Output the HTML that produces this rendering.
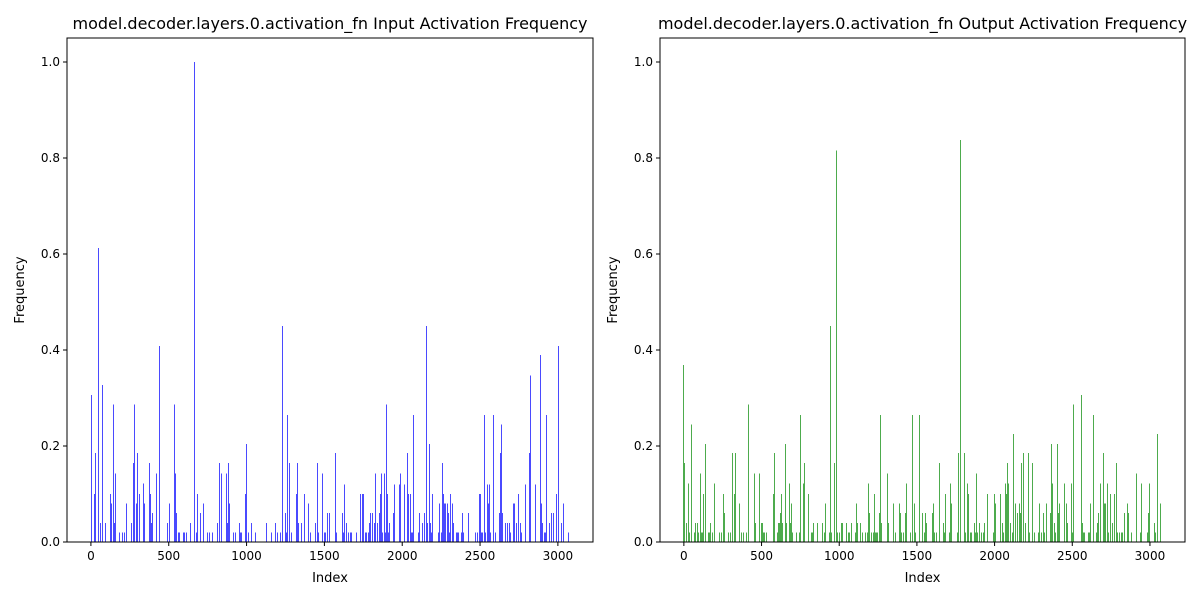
<!DOCTYPE html>
<html><head><meta charset="utf-8"><style>
body{margin:0;background:#fff;}
svg{display:block;font-family:"DejaVu Sans","Liberation Sans",sans-serif;}
</style></head><body>
<svg id="chart" width="1200" height="600" viewBox="0 0 1200 600"></svg>
<script>
const inIdx=[2,21,28,47,60,73,92,125,131,144,150,157,183,202,215,228,260,273,280,292,299,312,337,344,376,383,389,395,421,441,492,505,537,544,550,563,570,595,602,615,641,666,679,686,705,724,750,763,782,815,828,841,873,879,886,892,918,931,957,963,970,995,1002,1015,1034,1060,1125,1131,1163,1183,1196,1215,1228,1247,1254,1260,1273,1279,1286,1318,1324,1331,1350,1370,1395,1408,1441,1453,1460,1486,1499,1505,1518,1531,1570,1576,1615,1621,1628,1641,1653,1666,1673,1705,1731,1744,1750,1763,1770,1783,1789,1795,1808,1821,1828,1841,1854,1860,1866,1873,1886,1892,1899,1905,1912,1918,1944,1950,1982,1989,2015,2034,2041,2054,2060,2066,2073,2105,2111,2131,2144,2157,2163,2176,2182,2189,2195,2234,2240,2253,2260,2266,2273,2279,2292,2298,2305,2311,2324,2331,2350,2357,2363,2382,2389,2395,2428,2473,2486,2499,2505,2511,2518,2531,2537,2550,2557,2563,2569,2589,2602,2627,2634,2640,2647,2666,2679,2686,2698,2718,2724,2731,2744,2750,2757,2763,2769,2789,2815,2821,2853,2886,2892,2898,2911,2918,2924,2944,2957,2969,2989,3002,3021,3034,3070];
const inVal=[0.306,0.10,0.185,0.612,0.04,0.327,0.04,0.10,0.08,0.286,0.04,0.143,0.02,0.02,0.02,0.08,0.04,0.165,0.286,0.08,0.185,0.10,0.122,0.08,0.165,0.10,0.04,0.06,0.143,0.408,0.04,0.08,0.286,0.143,0.06,0.02,0.02,0.02,0.02,0.02,0.04,1.0,0.02,0.10,0.06,0.08,0.02,0.02,0.02,0.04,0.165,0.143,0.143,0.04,0.165,0.08,0.02,0.02,0.04,0.02,0.02,0.10,0.204,0.02,0.04,0.02,0.04,0.02,0.02,0.04,0.02,0.02,0.45,0.06,0.02,0.265,0.165,0.02,0.02,0.10,0.165,0.04,0.04,0.10,0.08,0.02,0.04,0.165,0.02,0.143,0.02,0.02,0.06,0.06,0.185,0.02,0.06,0.02,0.12,0.04,0.02,0.02,0.02,0.02,0.10,0.10,0.10,0.02,0.02,0.02,0.04,0.06,0.06,0.04,0.143,0.04,0.06,0.10,0.143,0.02,0.143,0.02,0.286,0.10,0.02,0.04,0.06,0.12,0.12,0.143,0.12,0.185,0.10,0.10,0.02,0.02,0.265,0.02,0.06,0.04,0.06,0.45,0.04,0.204,0.04,0.02,0.10,0.02,0.08,0.02,0.165,0.10,0.08,0.08,0.08,0.06,0.02,0.10,0.08,0.04,0.02,0.02,0.02,0.02,0.06,0.02,0.06,0.02,0.02,0.10,0.10,0.02,0.02,0.265,0.02,0.12,0.08,0.12,0.02,0.265,0.02,0.06,0.185,0.245,0.06,0.04,0.04,0.04,0.02,0.08,0.08,0.04,0.06,0.10,0.04,0.02,0.02,0.12,0.185,0.347,0.12,0.39,0.08,0.04,0.02,0.02,0.265,0.04,0.06,0.06,0.10,0.408,0.04,0.08,0.02];
const outIdx=[0,6,19,32,39,52,71,77,90,97,110,116,123,129,142,161,168,174,187,194,200,232,245,252,264,290,297,310,316,329,335,361,368,374,381,387,400,406,413,419,452,458,464,484,490,497,503,510,522,535,574,581,600,606,613,619,626,632,651,658,677,684,690,697,722,742,748,768,774,800,819,826,832,858,890,903,909,935,942,948,968,980,987,1000,1013,1019,1045,1058,1064,1077,1103,1109,1116,1135,1148,1167,1180,1187,1193,1206,1219,1226,1232,1239,1245,1258,1264,1271,1309,1316,1348,1361,1387,1393,1400,1413,1425,1432,1458,1471,1483,1490,1516,1535,1548,1554,1561,1600,1606,1613,1626,1645,1671,1677,1684,1710,1716,1722,1761,1768,1780,1806,1813,1826,1832,1845,1851,1871,1877,1884,1890,1903,1916,1929,1935,1955,1993,2000,2006,2038,2051,2058,2071,2077,2084,2090,2103,2116,2122,2135,2148,2161,2167,2174,2187,2200,2219,2226,2245,2258,2284,2290,2303,2316,2322,2335,2361,2367,2374,2387,2393,2406,2413,2419,2451,2464,2471,2496,2503,2509,2561,2567,2574,2580,2606,2612,2619,2638,2658,2664,2670,2683,2703,2709,2716,2729,2735,2748,2761,2774,2787,2793,2806,2819,2825,2838,2858,2864,2883,2916,2941,2948,2987,2993,3000,3032,3038,3051,3070];
const outVal=[0.369,0.165,0.04,0.122,0.02,0.245,0.02,0.04,0.04,0.02,0.143,0.02,0.02,0.10,0.204,0.02,0.02,0.04,0.02,0.02,0.122,0.02,0.02,0.10,0.06,0.02,0.02,0.02,0.185,0.10,0.185,0.08,0.02,0.02,0.02,0.02,0.02,0.02,0.286,0.04,0.143,0.04,0.04,0.143,0.04,0.04,0.04,0.02,0.02,0.02,0.10,0.185,0.02,0.04,0.04,0.06,0.10,0.04,0.204,0.04,0.122,0.04,0.08,0.02,0.02,0.02,0.265,0.122,0.165,0.10,0.02,0.02,0.04,0.04,0.04,0.02,0.08,0.02,0.45,0.02,0.165,0.816,0.02,0.02,0.04,0.04,0.04,0.02,0.02,0.04,0.02,0.08,0.04,0.04,0.02,0.02,0.02,0.122,0.06,0.02,0.02,0.10,0.02,0.02,0.02,0.06,0.265,0.04,0.143,0.04,0.08,0.02,0.08,0.06,0.02,0.02,0.06,0.122,0.02,0.265,0.08,0.02,0.265,0.06,0.02,0.06,0.04,0.06,0.08,0.02,0.02,0.165,0.04,0.02,0.10,0.02,0.122,0.08,0.02,0.185,0.837,0.185,0.02,0.122,0.10,0.02,0.02,0.04,0.02,0.143,0.02,0.04,0.02,0.02,0.04,0.10,0.02,0.10,0.08,0.10,0.04,0.02,0.122,0.10,0.165,0.122,0.04,0.02,0.225,0.08,0.06,0.08,0.06,0.165,0.185,0.04,0.185,0.02,0.165,0.02,0.02,0.08,0.02,0.06,0.02,0.08,0.06,0.204,0.122,0.04,0.02,0.204,0.06,0.08,0.122,0.08,0.04,0.122,0.02,0.286,0.306,0.04,0.02,0.02,0.02,0.02,0.08,0.265,0.02,0.04,0.06,0.122,0.185,0.08,0.08,0.122,0.02,0.10,0.04,0.10,0.165,0.02,0.02,0.02,0.02,0.06,0.08,0.06,0.02,0.143,0.02,0.122,0.02,0.06,0.122,0.04,0.02,0.225,0.08];
const xTicks=[0,500,1000,1500,2000,2500,3000];
const yTicks=[0,0.2,0.4,0.6,0.8,1.0];
const yTickLabels=["0.0","0.2","0.4","0.6","0.8","1.0"];

const NS="http://www.w3.org/2000/svg";
const svg=document.getElementById('chart');
function mk(tag,attrs,parent){const e=document.createElementNS(NS,tag);for(const k in attrs)e.setAttribute(k,attrs[k]);(parent||svg).appendChild(e);return e;}

function panel(left,right,idx,vals,color,title,key){
  const top=38,bottom=542;
  const xmin=-153.6,xmax=3225.6,ymax=1.05;
  const xs=v=>left+(v-xmin)/(xmax-xmin)*(right-left);
  const ys=v=>bottom-v/ymax*(bottom-top);
  const g=mk('g',{});
  
  
  const bars=mk('g',{'shape-rendering':'crispEdges'},g);
  
  
  for(let i=0;i<idx.length;i++){
    const x=Math.floor(xs(idx[i]));const y=ys(vals[i]);
    const r=mk('rect',{x:x,y:y,width:1,height:bottom-y,fill:color},bars);
    
    
  }
  const frame=mk('rect',{x:left,y:top,width:right-left,height:bottom-top,fill:'none',stroke:'#000','stroke-width':1,'shape-rendering':'crispEdges'},g);
  
  
  xTicks.forEach(t=>{
    const x=xs(t);
    mk('line',{x1:x,x2:x,y1:bottom,y2:bottom+4,stroke:'#000'},g);
    const tx=mk('text',{x:x,y:bottom+18,'font-size':12,'text-anchor':'middle'},g);
    tx.textContent=t;
    
    
  });
  yTicks.forEach((t,i)=>{
    const y=ys(t);
    mk('line',{x1:left-4,x2:left,y1:y,y2:y,stroke:'#000'},g);
    const tx=mk('text',{x:left-7,y:y+4,'font-size':12,'text-anchor':'end'},g);
    tx.textContent=yTickLabels[i];
    
    
  });
  const tt=mk('text',{x:(left+right)/2,y:29,'font-size':16,'text-anchor':'middle'},g);
  tt.textContent=title;
  
  
  const xl=mk('text',{x:(left+right)/2,y:582,'font-size':13,'text-anchor':'middle'},g);
  xl.textContent='Index';
  
  
  const yl=mk('text',{x:0,y:0,'font-size':13,'text-anchor':'middle',transform:'translate('+(left-43)+','+((top+bottom)/2)+') rotate(-90)'},g);
  yl.textContent='Frequency';
  
  
}
panel(67,593,inIdx,inVal,'#4a4aff','model.decoder.layers.0.activation_fn Input Activation Frequency','input');
panel(660,1185,outIdx,outVal,'#4dab4d','model.decoder.layers.0.activation_fn Output Activation Frequency','output');
</script>
</body></html>
